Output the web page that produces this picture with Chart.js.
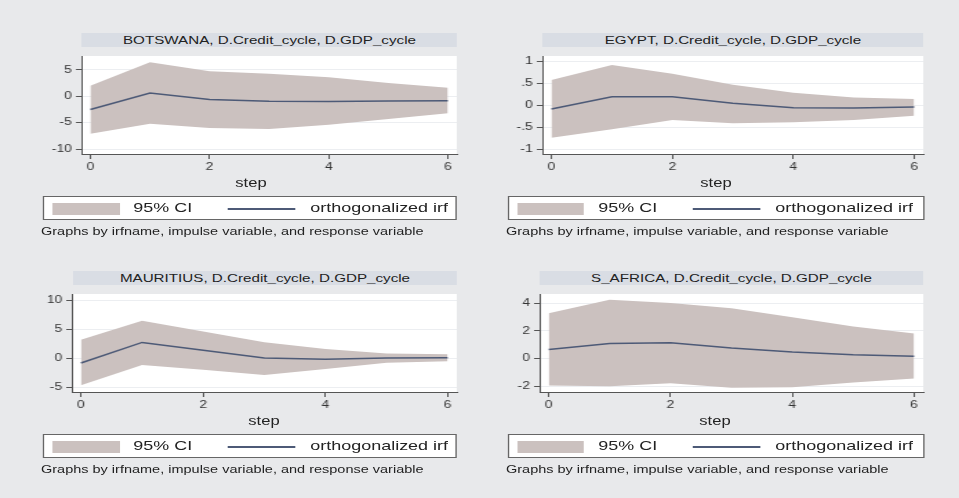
<!DOCTYPE html>
<html>
<head>
<meta charset="utf-8">
<script src="https://cdn.jsdelivr.net/npm/chart.js@4.4.1/dist/chart.umd.min.js"></script>
<style>
  html, body { margin: 0; padding: 0; background: #e8e9eb; }
  body { width: 959px; height: 498px; overflow: hidden; position: relative; font-family: "Liberation Sans", Arial, sans-serif; }
  #stage { position: absolute; left: 0; top: 0; height: 498px; transform-origin: 0 0; }
  .titlebar { position: absolute; background: #d9dde4; color: #222; font-size: 11px; text-align: center; white-space: nowrap; }
  .legend { position: absolute; background: #fff; border: 1px solid #666; box-sizing: border-box; }
  .legend .swatch { position: absolute; background: #cbc1bf; }
  .legend .sample { position: absolute; height: 1.5px; background: #4d5a77; }
  .legend .txt { position: absolute; font-size: 13px; color: #222; white-space: nowrap; }
  .xtitle { position: absolute; font-size: 12px; color: #222; text-align: center; width: 60px; white-space: nowrap; }
  .footer { position: absolute; font-size: 10.5px; color: #222; white-space: nowrap; }
  canvas { position: absolute; }
</style>
</head>
<body>
<div id="stage"></div>
<script>
// the source picture is stretched sideways, so draw narrow and scale the stage
const S = 1.38;

// DATA
const steps = [0, 1, 2, 3, 4, 5, 6];
const xTicks = [0, 2, 4, 6];
const xTitle = 'step';
const legendLabels = ['95% CI', 'orthogonalized irf'];
const footNote = 'Graphs by irfname, impulse variable, and response variable';

const botswanaTitle = 'BOTSWANA, D.Credit_cycle, D.GDP_cycle';
const botswanaIrf = [-2.5, 0.6, -0.6, -0.95, -1.0, -0.9, -0.85];
const botswanaLower = [-7.1, -5.2, -6.0, -6.2, -5.4, -4.3, -3.2];
const botswanaUpper = [2.0, 6.4, 4.7, 4.25, 3.6, 2.5, 1.6];
const botswanaYTicks = [-10, -5, 0, 5];
const botswanaYLabels = ['-10', '-5', '0', '5'];

const egyptTitle = 'EGYPT, D.Credit_cycle, D.GDP_cycle';
const egyptIrf = [-0.08, 0.2, 0.2, 0.05, -0.05, -0.055, -0.035];
const egyptLower = [-0.73, -0.54, -0.33, -0.40, -0.38, -0.33, -0.23];
const egyptUpper = [0.58, 0.92, 0.72, 0.475, 0.29, 0.18, 0.15];
const egyptYTicks = [-1, -0.5, 0, 0.5, 1];
const egyptYLabels = ['-1', '-.5', '0', '.5', '1'];

const mauritiusTitle = 'MAURITIUS, D.Credit_cycle, D.GDP_cycle';
const mauritiusIrf = [-0.8, 2.75, 1.4, 0.05, -0.15, 0.05, 0.1];
const mauritiusLower = [-4.65, -1.15, -1.95, -2.85, -1.85, -0.75, -0.5];
const mauritiusUpper = [3.2, 6.5, 4.65, 2.8, 1.6, 0.85, 0.7];
const mauritiusYTicks = [-5, 0, 5, 10];
const mauritiusYLabels = ['-5', '0', '5', '10'];

const safricaTitle = 'S_AFRICA, D.Credit_cycle, D.GDP_cycle';
const safricaIrf = [0.66, 1.1, 1.15, 0.77, 0.49, 0.29, 0.18];
const safricaLower = [-1.94, -1.99, -1.77, -2.1, -2.05, -1.72, -1.43];
const safricaUpper = [3.27, 4.24, 4.02, 3.64, 2.98, 2.32, 1.81];
const safricaYTicks = [-2, 0, 2, 4];
const safricaYLabels = ['-2', '0', '2', '4'];

// panel boxes in page pixels
const panels = [
  { title: botswanaTitle, irf: botswanaIrf, lower: botswanaLower, upper: botswanaUpper, yTicks: botswanaYTicks, yLabels: botswanaYLabels,
    ymin: -10.9, ymax: 7.6, L: 81, R: 457, T: 47, B: 154, legL: 43, legR: 457, footL: 41, stepC: 251 },
  { title: egyptTitle, irf: egyptIrf, lower: egyptLower, upper: egyptUpper, yTicks: egyptYTicks, yLabels: egyptYLabels,
    ymin: -1.1, ymax: 1.125, L: 542, R: 923, T: 47, B: 154, legL: 508, legR: 925, footL: 506, stepC: 716 },
  { title: mauritiusTitle, irf: mauritiusIrf, lower: mauritiusLower, upper: mauritiusUpper, yTicks: mauritiusYTicks, yLabels: mauritiusYLabels,
    ymin: -5.8, ymax: 11.1, L: 72, R: 457, T: 285, B: 392, legL: 43, legR: 457, footL: 41, stepC: 264 },
  { title: safricaTitle, irf: safricaIrf, lower: safricaLower, upper: safricaUpper, yTicks: safricaYTicks, yLabels: safricaYLabels,
    ymin: -2.4, ymax: 4.66, L: 539, R: 923, T: 285, B: 392, legL: 508, legR: 925, footL: 506, stepC: 715 }
];

const stage = document.getElementById('stage');
stage.style.width = (959 / S) + 'px';
stage.style.transform = 'scaleX(' + S + ')';
const u = x => x / S;

Chart.defaults.font.family = '"Liberation Sans", Arial, sans-serif';

const whiteArea = {
  id: 'whiteArea',
  beforeDraw(chart) {
    const a = chart.chartArea;
    chart.ctx.save();
    chart.ctx.fillStyle = '#fff';
    chart.ctx.fillRect(a.left, a.top, a.right - a.left, a.bottom - a.top);
    chart.ctx.restore();
  }
};

function el(tag, cls, css, text) {
  const d = document.createElement(tag);
  if (cls) d.className = cls;
  Object.assign(d.style, css);
  if (text) d.textContent = text;
  return d;
}

const pts = arr => steps.map((s, i) => ({ x: s, y: arr[i] }));
const YW = 26, XH = 42;

panels.forEach(p => {
  // title strip
  stage.appendChild(el('div', 'titlebar', {
    left: u(p.L + 1) + 'px', width: u(p.R - p.L - 1) + 'px', top: (p.T - 14) + 'px', height: '14px', lineHeight: '14px'
  }, p.title));

  // chart
  const cv = document.createElement('canvas');
  const w = Math.round(u(p.R - p.L) + YW + 2);
  const h = (p.B - p.T) + XH;
  cv.width = w; cv.height = h;
  cv.style.width = w + 'px'; cv.style.height = h + 'px';
  cv.style.left = (u(p.L) - YW) + 'px';
  cv.style.top = p.T + 'px';
  stage.appendChild(cv);

  new Chart(cv, {
    type: 'line',
    data: {
      datasets: [
        { data: pts(p.irf), borderColor: '#4d5a77', borderWidth: 1.5, pointRadius: 0, fill: false, tension: 0 },
        { data: pts(p.lower), borderWidth: 0, borderColor: 'rgba(0,0,0,0)', pointRadius: 0, fill: false },
        { data: pts(p.upper), borderWidth: 0, borderColor: 'rgba(0,0,0,0)', pointRadius: 0, fill: '-1', backgroundColor: '#cbc1bf' }
      ]
    },
    options: {
      responsive: false,
      animation: false,
      devicePixelRatio: 1,
      layout: { padding: { left: 0, right: 2, top: 0, bottom: 0 } },
      plugins: { legend: { display: false }, tooltip: { enabled: false } },
      scales: {
        x: {
          type: 'linear', min: -0.15, max: 6.15,
          afterBuildTicks: s => { s.ticks = xTicks.map(v => ({ value: v })); },
          afterFit: s => { s.height = XH; },
          grid: { drawOnChartArea: false, tickLength: 5, tickColor: '#555' },
          border: { color: '#555', width: 1 },
          ticks: { font: { size: 10 }, color: '#333', padding: 2, maxRotation: 0, callback: v => String(v) }
        },
        y: {
          min: p.ymin, max: p.ymax,
          afterBuildTicks: s => { s.ticks = p.yTicks.map(v => ({ value: v })); },
          afterFit: s => { s.width = YW; },
          grid: { color: '#eceef1', tickLength: 4, tickColor: '#555' },
          border: { color: '#555', width: 1 },
          ticks: { font: { size: 10 }, color: '#333', padding: 3, callback: v => p.yLabels[p.yTicks.indexOf(v)] }
        }
      }
    },
    plugins: [whiteArea]
  });

  // axis title, centred on the whole graph rather than on the plot region
  stage.appendChild(el('div', 'xtitle', { left: (u(p.stepC) - 30) + 'px', top: (p.B + 22) + 'px', lineHeight: '14px' }, xTitle));

  // legend box
  const lg = el('div', 'legend', {
    left: u(p.legL) + 'px', width: u(p.legR - p.legL) + 'px', top: (p.B + 42) + 'px', height: '24px'
  });
  lg.appendChild(el('div', 'swatch', { left: u(8) + 'px', width: u(67) + 'px', top: '6px', height: '12px' }));
  lg.appendChild(el('div', 'txt', { left: u(89) + 'px', top: '0px', lineHeight: '22px' }, legendLabels[0]));
  lg.appendChild(el('div', 'sample', { left: u(184) + 'px', width: u(67) + 'px', top: '11px' }));
  lg.appendChild(el('div', 'txt', { left: u(266) + 'px', top: '0px', lineHeight: '22px' }, legendLabels[1]));
  stage.appendChild(lg);

  // note
  stage.appendChild(el('div', 'footer', { left: u(p.footL) + 'px', top: (p.B + 70) + 'px', lineHeight: '14px' }, footNote));
});
</script>
</body>
</html>
